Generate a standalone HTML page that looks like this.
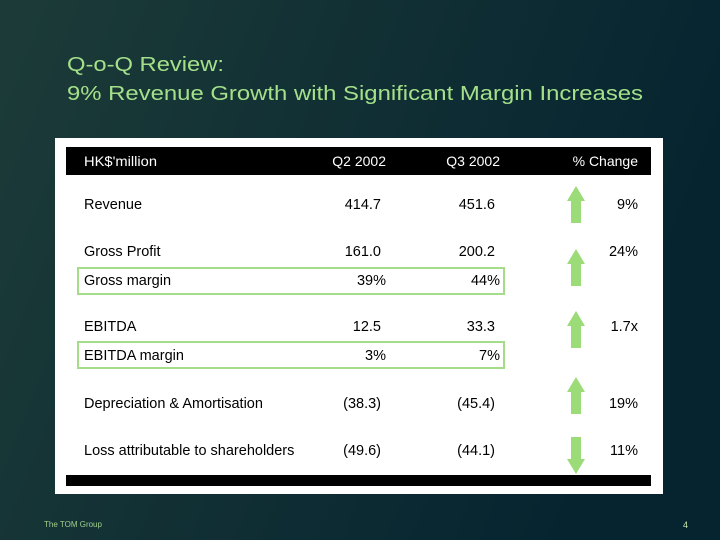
<!DOCTYPE html>
<html><head><meta charset="utf-8"><style>
html,body{margin:0;padding:0;width:720px;height:540px;overflow:hidden}
svg{display:block;font-family:"Liberation Sans","DejaVu Sans",sans-serif}
</style></head><body>
<svg width="720" height="540" viewBox="0 0 720 540">
<defs><linearGradient id="bg" x1="0" y1="0" x2="1" y2="0.3">
<stop offset="0" stop-color="#1c3b38"/><stop offset="1" stop-color="#062430"/></linearGradient></defs>
<rect width="720" height="540" fill="url(#bg)"/>
<text x="67" y="71" font-size="20" fill="#a4e08a" textLength="157" lengthAdjust="spacingAndGlyphs">Q-o-Q Review:</text>
<text x="67" y="100" font-size="20" fill="#a4e08a" textLength="576" lengthAdjust="spacingAndGlyphs">9% Revenue Growth with Significant Margin Increases</text>
<rect x="55" y="138" width="608" height="356" fill="#fff"/>
<rect x="66" y="147" width="585" height="28" fill="#000"/>
<rect x="66" y="475" width="585" height="11" fill="#000"/>
<g font-size="14" fill="#fff">
<text x="84" y="166" textLength="73" lengthAdjust="spacingAndGlyphs">HK$'million</text>
<text x="386" y="166" text-anchor="end">Q2 2002</text>
<text x="500" y="166" text-anchor="end">Q3 2002</text>
<text x="638" y="166" text-anchor="end">% Change</text>
</g>
<rect x="78" y="268" width="426" height="26" fill="none" stroke="#a4dc88" stroke-width="2"/>
<rect x="78" y="342" width="426" height="26" fill="none" stroke="#a4dc88" stroke-width="2"/>
<g id="rows"></g>
<text x="44" y="527" font-size="8" fill="#9fcf8c">The TOM Group</text>
<text x="688" y="528" font-size="9" fill="#c8e6b0" text-anchor="end">4</text>
</svg>
<script>
const labels=["Revenue","Gross Profit","Gross margin","EBITDA","EBITDA margin","Depreciation & Amortisation","Loss attributable to shareholders"];
const q2=["414.7","161.0","39%","12.5","3%","(38.3)","(49.6)"];
const q3=["451.6","200.2","44%","33.3","7%","(45.4)","(44.1)"];
const change=["9%","24%","","1.7x","","19%","11%"];
const arrows=["up","up","","up","","up","down"];
const rowY=[209,256,285,331,360,408,455];
const arrowTop=[186,249,0,311,0,377,437];
const NS="http://www.w3.org/2000/svg";
const g=document.getElementById('rows');
function txt(x,y,s,anchor,name){
  const t=document.createElementNS(NS,'text');
  t.setAttribute('x',x);t.setAttribute('y',y);t.setAttribute('font-size','14.5');
  t.setAttribute('fill','#000');if(anchor)t.setAttribute('text-anchor',anchor);
  t.textContent=s;
  
  
  g.appendChild(t);
  return t;
}
labels.forEach((l,i)=>{
  const y=rowY[i];
  const margin=l.indexOf('margin')>=0;
  txt(84,y,l,null,'row-label');
  txt(margin?386:381,y,q2[i],'end','q2-value');
  txt(margin?500:495,y,q3[i],'end','q3-value');
  if(change[i])txt(638,y,change[i],'end','percent-change');
  if(arrows[i]){
    const p=document.createElementNS(NS,'polygon');
    const cx=576,top=arrowTop[i],bot=top+37;
    let pts;
    if(arrows[i]==='up')pts=[[cx,top],[cx+9,top+15],[cx+5,top+15],[cx+5,bot],[cx-5,bot],[cx-5,top+15],[cx-9,top+15]];
    else pts=[[cx,bot],[cx+9,bot-15],[cx+5,bot-15],[cx+5,top],[cx-5,top],[cx-5,bot-15],[cx-9,bot-15]];
    p.setAttribute('points',pts.map(a=>a.join(',')).join(' '));
    p.setAttribute('fill','#9bdc78');
    
    
    g.appendChild(p);
  }
});
</script>
</body></html>
